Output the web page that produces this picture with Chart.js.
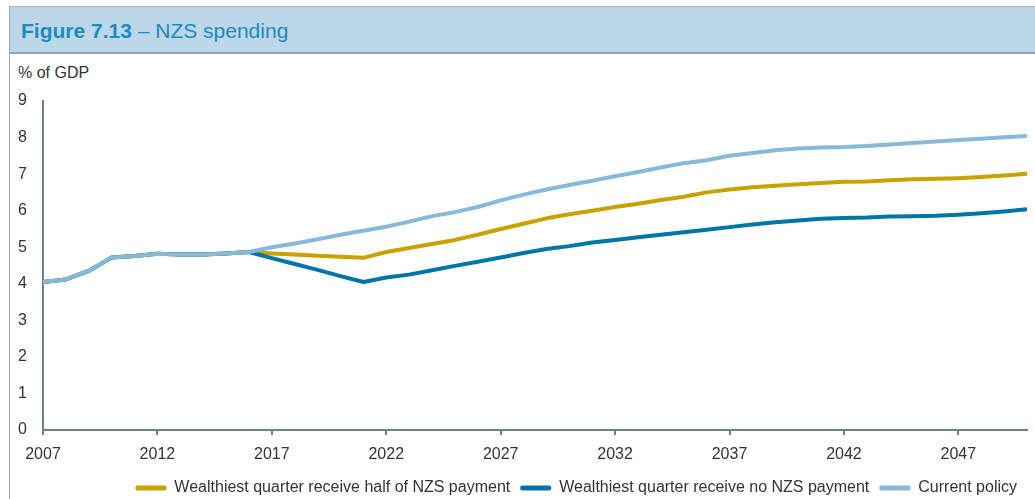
<!DOCTYPE html>
<html>
<head>
<meta charset="utf-8">
<script src="https://cdn.jsdelivr.net/npm/chart.js@4.4.1/dist/chart.umd.min.js"></script>
<style>
  html, body { margin: 0; padding: 0; background: #fff; }
  body { width: 1035px; height: 499px; position: relative; overflow: hidden; font-family: "Liberation Sans", Arial, sans-serif; }
  #frame { position: absolute; left: 9px; top: 6px; right: 0; bottom: 0; border-left: 1px solid #a9a9a9; border-top: 1px solid #b5b5b5; }
  #titlebar { position: absolute; left: 10px; top: 7px; right: 0; height: 45px; background: #bcd7e9; border-bottom: 2px solid #8fa3b1; }
  #titlebar span { position: absolute; left: 11px; top: 12px; font-size: 21px; color: #1a8cc0; white-space: nowrap; }
  #titlebar b { font-weight: bold; }
  #unit { position: absolute; left: 18px; top: 64px; font-size: 16px; color: #333; }
  #chart { position: absolute; left: 0; top: 60px; }
</style>
</head>
<body>
<div id="frame"></div>
<div id="titlebar"><span><b>Figure 7.13</b> – NZS spending</span></div>
<div id="unit">% of GDP</div>
<canvas id="chart" width="1035" height="446"></canvas>
<script>
// Años y series (% del PIB)
const years = [2007, 2008, 2009, 2010, 2011, 2012, 2013, 2014, 2015, 2016,
    2017, 2018, 2019, 2020, 2021, 2022, 2023, 2024, 2025, 2026,
    2027, 2028, 2029, 2030, 2031, 2032, 2033, 2034, 2035, 2036,
    2037, 2038, 2039, 2040, 2041, 2042, 2043, 2044, 2045, 2046,
    2047, 2048, 2049, 2050];

const halfPayment = [4.05, 4.12, 4.35, 4.72, 4.76, 4.82, 4.80, 4.80, 4.83, 4.87,
    4.83, 4.80, 4.77, 4.74, 4.71, 4.87, 4.98, 5.09, 5.20, 5.34,
    5.50, 5.64, 5.79, 5.90, 6.00, 6.10, 6.19, 6.29, 6.38, 6.50,
    6.58, 6.64, 6.68, 6.72, 6.76, 6.79, 6.80, 6.83, 6.86, 6.87,
    6.89, 6.92, 6.96, 7.01];

const noPayment = [4.05, 4.12, 4.35, 4.72, 4.76, 4.82, 4.80, 4.80, 4.83, 4.87,
    4.70, 4.54, 4.38, 4.21, 4.05, 4.17, 4.25, 4.37, 4.49, 4.60,
    4.72, 4.84, 4.95, 5.03, 5.13, 5.20, 5.27, 5.34, 5.41, 5.48,
    5.55, 5.62, 5.68, 5.73, 5.78, 5.80, 5.81, 5.84, 5.85, 5.86,
    5.89, 5.93, 5.98, 6.04];

const currentPolicy = [4.05, 4.12, 4.35, 4.72, 4.76, 4.82, 4.80, 4.80, 4.83, 4.87,
    5.00, 5.10, 5.22, 5.34, 5.45, 5.56, 5.70, 5.85, 5.96, 6.10,
    6.28, 6.44, 6.58, 6.70, 6.82, 6.94, 7.06, 7.18, 7.30, 7.38,
    7.50, 7.58, 7.65, 7.70, 7.73, 7.74, 7.77, 7.81, 7.85, 7.89,
    7.93, 7.97, 8.01, 8.04];

const xTicks = [2007, 2012, 2017, 2022, 2027, 2032, 2037, 2042, 2047];
const yTicks = [0, 1, 2, 3, 4, 5, 6, 7, 8, 9];

const seriesNames = [
    'Wealthiest quarter receive half of NZS payment',
    'Wealthiest quarter receive no NZS payment',
    'Current policy'
];

const AXIS = '#6f7f8c';
const TEXT = '#333333';
const FONT = { family: '"Liberation Sans", Arial, sans-serif', size: 16 };

function points(values) {
    return years.map((y, i) => ({ x: y, y: values[i] }));
}

function lineSet(label, values, color, order) {
    return {
        label: label,
        data: points(values),
        borderColor: color,
        backgroundColor: color,
        borderWidth: 4,
        borderCapStyle: 'round',
        borderJoinStyle: 'round',
        pointRadius: 0,
        tension: 0,
        order: order
    };
}

const ctx = document.getElementById('chart').getContext('2d');
const chart = new Chart(ctx, {
    type: 'line',
    data: {
        datasets: [
            lineSet(seriesNames[0], halfPayment, '#c9a200', 2),
            lineSet(seriesNames[1], noPayment, '#0075aa', 1),
            lineSet(seriesNames[2], currentPolicy, '#88b9da', 0)
        ]
    },
    options: {
        responsive: false,
        devicePixelRatio: 1,
        animation: false,
        layout: { padding: { left: 0, right: 8, top: 41, bottom: 0 } },
        plugins: {
            tooltip: { enabled: false },
            legend: {
                position: 'bottom',
                align: 'end',
                labels: {
                    color: TEXT,
                    font: FONT,
                    boxWidth: 31,
                    boxHeight: 5,
                    padding: 10,
                    sort: (a, b) => a.datasetIndex - b.datasetIndex,
                    generateLabels: (c) => Chart.defaults.plugins.legend.labels.generateLabels(c)
                        .map(l => Object.assign(l, { lineWidth: 0, borderRadius: 2 })),
                    useBorderRadius: true,
                    borderRadius: 2
                }
            }
        },
        scales: {
            x: {
                type: 'linear',
                min: 2007,
                max: 2050,
                afterBuildTicks: (s) => { s.ticks = xTicks.map(v => ({ value: v })); },
                ticks: {
                    color: TEXT,
                    font: FONT,
                    padding: 10,
                    maxRotation: 0,
                    callback: (v) => String(v)
                },
                grid: { drawOnChartArea: false, color: AXIS, lineWidth: 2, tickLength: 5 },
                border: { color: AXIS, width: 2 },
                afterFit: (s) => { s.height = 40; }
            },
            y: {
                min: 0,
                max: 9,
                afterBuildTicks: (s) => { s.ticks = yTicks.map(v => ({ value: v })); },
                ticks: { color: TEXT, font: FONT, padding: 16 },
                grid: { drawOnChartArea: false, drawTicks: false, color: AXIS },
                border: { color: AXIS, width: 2 },
                afterFit: (s) => { s.width = 43; }
            }
        }
    }
});
</script>
</body>
</html>
